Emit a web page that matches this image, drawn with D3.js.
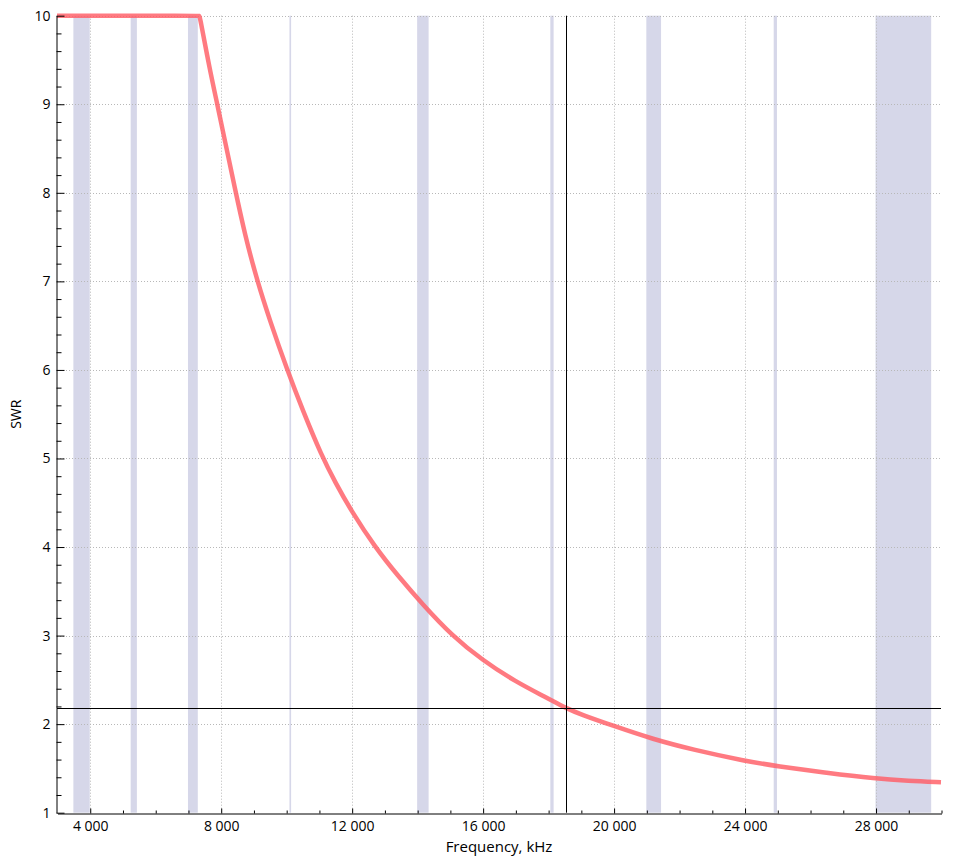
<!DOCTYPE html>
<html><head><meta charset="utf-8">
<script src="https://cdn.jsdelivr.net/npm/d3@7"></script>
<style>
html,body{margin:0;padding:0;background:#fff;}
svg{display:block;}
text{font-family:"Open Sans",sans-serif;fill:#000;}
</style></head>
<body>
<svg id="c" width="956" height="863"></svg>
<script>
// ---- data ----
const freq = [3000, 7300, 7340, 7365, 7650, 7896, 8150, 8416, 8742, 9119, 9500, 10030, 10500, 11084, 11500, 12000, 12713, 13400, 14175, 15065, 16000, 17000, 18000, 18547, 19000, 20000, 21200, 22436, 24000, 25000, 26510, 28000, 29000, 30000, 30000];
const swr  = [10, 10, 10, 9.99, 9.42, 9.0, 8.55, 8.08, 7.52, 7.0, 6.56, 6.0, 5.55, 5.03, 4.73, 4.40, 4.0, 3.68, 3.35, 3.0, 2.72, 2.48, 2.29, 2.18, 2.11, 1.98, 1.83, 1.71, 1.585, 1.525, 1.45, 1.385, 1.36, 1.345, 1.345];
const bandStart = [3500, 5250, 7000, 10100, 14000, 18068, 21000, 24890, 28000];
const bandEnd   = [4000, 5440, 7300, 10150, 14350, 18168, 21450, 24990, 29700];
const xMajorTicks = [4000, 8000, 12000, 16000, 20000, 24000, 28000];
const xMinorTicks = [5000, 6000, 7000, 9000, 10000, 11000, 13000, 14000, 15000, 17000, 18000, 19000, 21000, 22000, 23000, 25000, 26000, 27000, 29000, 30000];
const yMajorTicks = [1, 2, 3, 4, 5, 6, 7, 8, 9, 10];
const cursorFreq = 18547;
const cursorSwr = 2.18;
const xTitle = "Frequency, kHz";
const yTitle = "SWR";

// ---- layout ----
const L = 57, R = 941, T = 15.7, B = 812.7;
const x = d3.scaleLinear().domain([3000, 30000]).range([L, R]);
const y = d3.scaleLinear().domain([1, 10]).range([B, T]);
const svg = d3.select("#c");

const loc = d3.formatLocale({decimal: ".", thousands: " ", grouping: [3], currency: ["", ""]});
const fmt = loc.format(",");

// bands
svg.append("g").selectAll("rect").data(bandStart.map((s, i) => [s, bandEnd[i]])).join("rect")
  .attr("x", d => x(d[0])).attr("width", d => x(d[1]) - x(d[0]))
  .attr("y", T).attr("height", B - T)
  .attr("fill", "#d6d7e9");

// grid
const grid = svg.append("g").attr("stroke", "#b8b8b8").attr("stroke-width", 1).attr("stroke-dasharray", "1,2").attr("fill", "none");
grid.selectAll("line.v").data(xMajorTicks).join("line").attr("class", "v")
  .attr("x1", d => Math.round(x(d)) + 0.5).attr("x2", d => Math.round(x(d)) + 0.5)
  .attr("y1", T).attr("y2", B);
grid.selectAll("line.h").data(yMajorTicks.filter(v => v > 1)).join("line").attr("class", "h")
  .attr("y1", d => Math.round(y(d)) + 0.5).attr("y2", d => Math.round(y(d)) + 0.5)
  .attr("x1", L).attr("x2", R);

// curve
const pts = freq.map((f, i) => [f, swr[i]]);
const line = d3.line().x(d => x(d[0])).y(d => y(d[1])).curve(d3.curveBasis);
svg.append("path").datum(pts).attr("d", line)
  .attr("fill", "none").attr("stroke", "rgb(255,95,104)").attr("stroke-opacity", 0.83)
  .attr("stroke-width", 4.5).attr("stroke-linejoin", "round");

// cursor crosshair
svg.append("line").attr("x1", Math.round(x(cursorFreq)) + 0.5).attr("x2", Math.round(x(cursorFreq)) + 0.5)
  .attr("y1", T).attr("y2", B).attr("stroke", "#000").attr("stroke-width", 1);
svg.append("line").attr("y1", Math.round(y(cursorSwr)) + 0.5).attr("y2", Math.round(y(cursorSwr)) + 0.5)
  .attr("x1", L).attr("x2", R).attr("stroke", "#000").attr("stroke-width", 1);

// axes
const xAxis = svg.append("g").attr("transform", `translate(0.5,${Math.round(B) + 0.5})`)
  .call(d3.axisBottom(x).tickValues(xMajorTicks).tickFormat(fmt).tickSizeInner(-5).tickSizeOuter(0).tickPadding(8));
xAxis.select(".domain").attr("stroke", "#000");
xAxis.selectAll("text").attr("font-size", 14).attr("font-family", "Open Sans");
const xMinor = svg.append("g").attr("transform", `translate(0.5,${Math.round(B) + 0.5})`)
  .call(d3.axisBottom(x).tickValues(xMinorTicks).tickFormat("").tickSizeInner(-3).tickSizeOuter(0));
xMinor.select(".domain").remove();

const yAxis = svg.append("g").attr("transform", `translate(${L - 0.5},0)`)
  .call(d3.axisLeft(y).tickValues(yMajorTicks).tickFormat(d3.format("d")).tickSizeInner(-8).tickSizeOuter(0).tickPadding(6));
yAxis.select(".domain").attr("stroke", "#000");
yAxis.selectAll("text").attr("font-size", 14).attr("font-family", "Open Sans");
const yMinorVals = [];
yMajorTicks.slice(0, -1).forEach(v => { for (let k = 1; k < 5; k++) yMinorVals.push(+(v + k * 0.2).toFixed(1)); });
const yMinor = svg.append("g").attr("transform", `translate(${L - 0.5},0)`)
  .call(d3.axisLeft(y).tickValues(yMinorVals).tickFormat("").tickSizeInner(-5).tickSizeOuter(0));
yMinor.select(".domain").remove();

// titles
svg.append("text").attr("x", (L + R) / 2).attr("y", 852).attr("text-anchor", "middle")
  .attr("font-size", 15).text(xTitle);
svg.append("text").attr("transform", `translate(21,${(T + B) / 2}) rotate(-90)`).attr("text-anchor", "middle")
  .attr("font-size", 14).text(yTitle);
</script>
</body></html>
